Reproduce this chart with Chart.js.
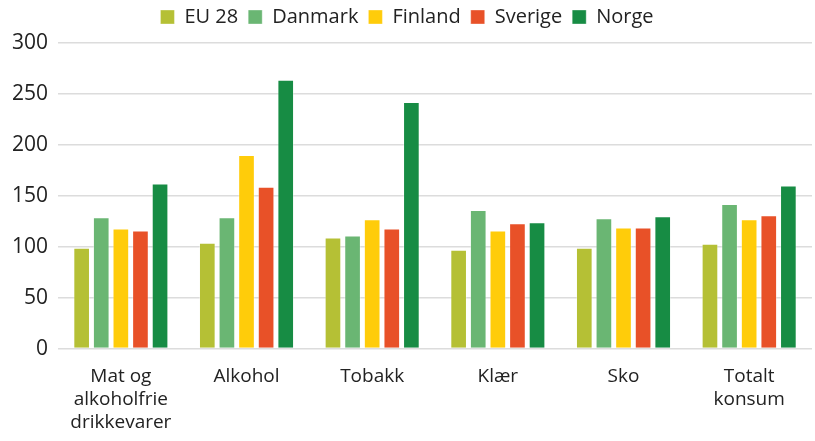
<!DOCTYPE html>
<html>
<head>
<meta charset="utf-8">
<script src="https://cdn.jsdelivr.net/npm/chart.js@4"></script>
<style>
    html, body { margin: 0; padding: 0; background: #fff; }
    #wrap { width: 815px; height: 441px; }
</style>
</head>
<body>
<div id="wrap"><canvas id="chart" width="815" height="441"></canvas></div>
<script>
const categories = [
    ["Mat og", "alkoholfrie", "drikkevarer"],
    "Alkohol",
    "Tobakk",
    "Klær",
    "Sko",
    ["Totalt", "konsum"],
];

const eu28 = [99, 104, 109, 97, 99, 103];
const danmark = [129, 129, 111, 136, 128, 142];
const finland = [118, 190, 127, 116, 119, 127];
const sverige = [116, 159, 118, 123, 119, 131];
const norge = [162, 264, 242, 124, 130, 160];

const yTicks = [0, 50, 100, 150, 200, 250, 300];

const FONT = "'Open Sans', Lato, sans-serif";

function makeDataset(label, data, color) {
    return {
        label: label,
        data: data,
        backgroundColor: color,
        borderColor: "rgba(255, 255, 255, 0.35)",
        borderWidth: 1,
        borderSkipped: "bottom",
        categoryPercentage: 0.78,
        barPercentage: 0.85,
    };
}

// add some space under the legend
const legendGap = {
    id: "legendGap",
    beforeInit(chart) {
        const fit = chart.legend.fit;
        chart.legend.fit = function () {
            fit.bind(chart.legend)();
            this.height += 6;
        };
    },
};

new Chart(document.getElementById("chart"), {
    type: "bar",
    data: {
        labels: categories,
        datasets: [
            makeDataset("EU 28", eu28, "#b5c035"),
            makeDataset("Danmark", danmark, "#6ab673"),
            makeDataset("Finland", finland, "#ffcc0a"),
            makeDataset("Sverige", sverige, "#e85128"),
            makeDataset("Norge", norge, "#178c44"),
        ],
    },
    plugins: [legendGap],
    options: {
        responsive: false,
        animation: false,
        layout: {
            padding: { left: 2, right: 3, top: -3, bottom: -2 },
        },
        plugins: {
            legend: {
                position: "top",
                labels: {
                    boxWidth: 14,
                    boxHeight: 14,
                    padding: 10,
                    color: "#222",
                    font: { family: FONT, size: 20 },
                },
            },
            tooltip: { enabled: false },
        },
        scales: {
            x: {
                grid: { display: false },
                border: { display: false },
                ticks: {
                    color: "#222",
                    font: { family: FONT, size: 19, lineHeight: 1.2 },
                    maxRotation: 0,
                    autoSkip: false,
                    padding: 9,
                },
            },
            y: {
                min: 0,
                max: 300,
                afterBuildTicks: (axis) => {
                    axis.ticks = yTicks.map((v) => ({ value: v }));
                },
                grid: {
                    color: "#dcdcdc",
                    lineWidth: 1.5,
                    drawTicks: false,
                },
                border: { display: false },
                ticks: {
                    color: "#222",
                    font: { family: FONT, size: 21 },
                    padding: 10,
                },
            },
        },
    },
});
</script>
</body>
</html>
